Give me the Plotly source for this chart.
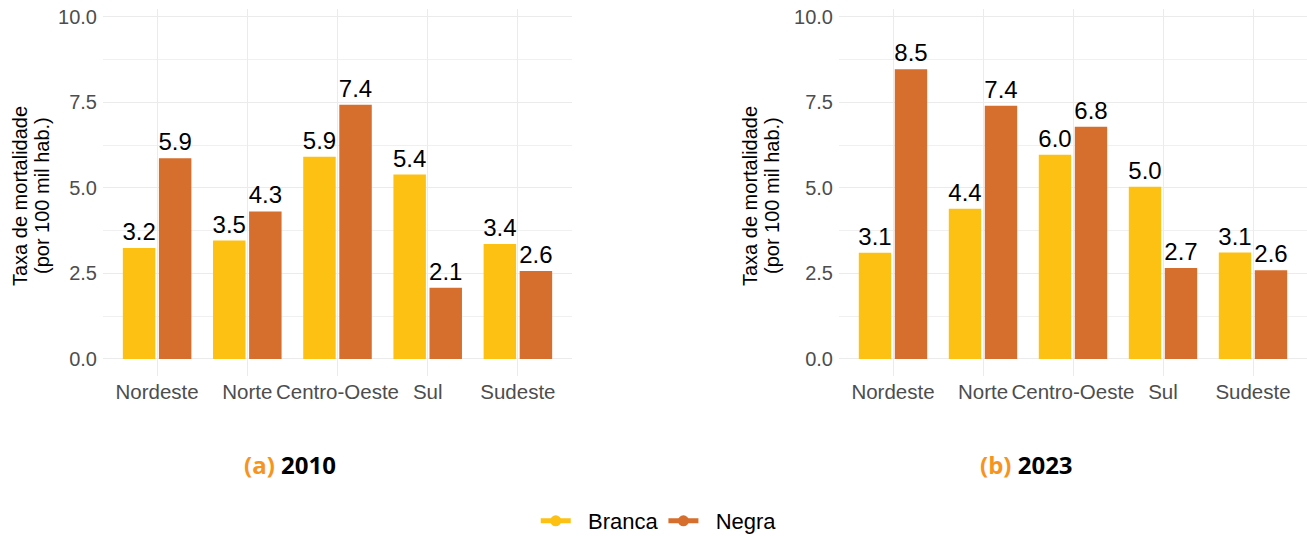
import plotly.graph_objects as go

regions = ["Nordeste", "Norte", "Centro-Oeste", "Sul", "Sudeste"]
branca_2010 = [3.24, 3.46, 5.91, 5.39, 3.36]
negra_2010 = [5.87, 4.31, 7.43, 2.08, 2.57]
branca_2023 = [3.10, 4.39, 5.97, 5.03, 3.11]
negra_2023 = [8.47, 7.40, 6.79, 2.66, 2.59]
y_ticks = [0, 2.5, 5, 7.5, 10]
y_minor = [1.25, 3.75, 6.25, 8.75]
captions = [("(a)", "2010"), ("(b)", "2023")]

C_BRANCA = "#FDC113"
C_NEGRA = "#D66F2D"
FONT = "Liberation Sans, Arial, sans-serif"
NB = "\u00a0\u00a0"

fig = go.Figure()

panels = [(branca_2010, negra_2010, "x", "y"), (branca_2023, negra_2023, "x2", "y2")]
for b, n, xa, ya in panels:
    for vals, col, name in [(b, C_BRANCA, "Branca"), (n, C_NEGRA, "Negra")]:
        fig.add_trace(go.Bar(
            x=regions, y=vals, name=name, marker=dict(color=col, line=dict(width=0)),
            texttemplate="%{y:.1f}", textposition="outside", cliponaxis=False,
            constraintext="none", textfont=dict(size=24, color="black", family=FONT),
            xaxis=xa, yaxis=ya, showlegend=False, offsetgroup=name,
        ))

for name, col in [("Branca", C_BRANCA), ("Negra", C_NEGRA)]:
    fig.add_trace(go.Scatter(x=[None], y=[None], mode="lines+markers", name=NB + name,
                             line=dict(color=col, width=5), marker=dict(color=col, size=11),
                             xaxis="x", yaxis="y"))

xcommon = dict(type="category", range=[-0.6, 4.6], showgrid=True, gridcolor="#EBEBEB",
               gridwidth=1.2, zeroline=False, showline=False, ticks="", ticklabelstandoff=1,
               tickangle=0, automargin=False,
               tickfont=dict(size=20.5, color="#4D4D4D", family=FONT),
               categoryorder="array", categoryarray=regions)
ycommon = dict(range=[-0.5, 10.23], tickvals=y_ticks, tickformat=".1f", showgrid=True,
               gridcolor="#EBEBEB", gridwidth=1.2, zeroline=False, showline=False,
               ticks="outside", ticklen=1, tickcolor="rgba(0,0,0,0)", automargin=False,
               tickfont=dict(size=20, color="#4D4D4D", family=FONT),
               minor=dict(tickvals=y_minor, showgrid=True, gridcolor="#F0F0F0", gridwidth=0.9, ticks=""))

W = 1307
Hc = 536
fig.update_layout(
    width=W, height=Hc, margin=dict(l=0, r=0, t=9, b=160),
    plot_bgcolor="white", paper_bgcolor="white",
    barmode="group", bargap=0.2, bargroupgap=0.1,
    xaxis=dict(domain=[103 / W, 572 / W], anchor="y", **xcommon),
    yaxis=dict(domain=[0, 1], anchor="x", **ycommon),
    xaxis2=dict(domain=[839 / W, 1.0], anchor="y2", **xcommon),
    yaxis2=dict(domain=[0, 1], anchor="x2", **ycommon),
    legend=dict(orientation="h", x=0.504, xanchor="center", xref="container",
                y=(Hc - 521) / Hc, yanchor="middle", yref="container",
                font=dict(size=22, color="black", family=FONT), itemwidth=30),
    showlegend=True,
)

H = 367.0
def py(px):
    return (376 - px) / H

ann = []
for x1, x2 in [(20, 42), (750, 772)]:
    ann.append(dict(text="Taxa de mortalidade", x=x1 / W, y=py(196), xref="paper", yref="paper",
                    textangle=-90, showarrow=False, xanchor="center", yanchor="middle",
                    font=dict(size=20, color="black", family=FONT)))
    ann.append(dict(text="(por 100 mil hab.)", x=x2 / W, y=py(196), xref="paper", yref="paper",
                    textangle=-90, showarrow=False, xanchor="center", yanchor="middle",
                    font=dict(size=20, color="black", family=FONT)))
for (lab, yr), cx in zip(captions, [290, 1026]):
    ann.append(dict(text=f"<b><span style='color:#F7941D'>{lab}</span> {yr}</b>",
                    x=cx / W, y=py(465), xref="paper", yref="paper", showarrow=False,
                    xanchor="center", yanchor="middle",
                    font=dict(size=24, color="black", family="Open Sans, sans-serif")))
fig.update_layout(annotations=ann)

fig.write_html("out.html", config={"displayModeBar": False},
               post_script="document.body.style.margin='0';document.body.style.overflow='hidden';")
